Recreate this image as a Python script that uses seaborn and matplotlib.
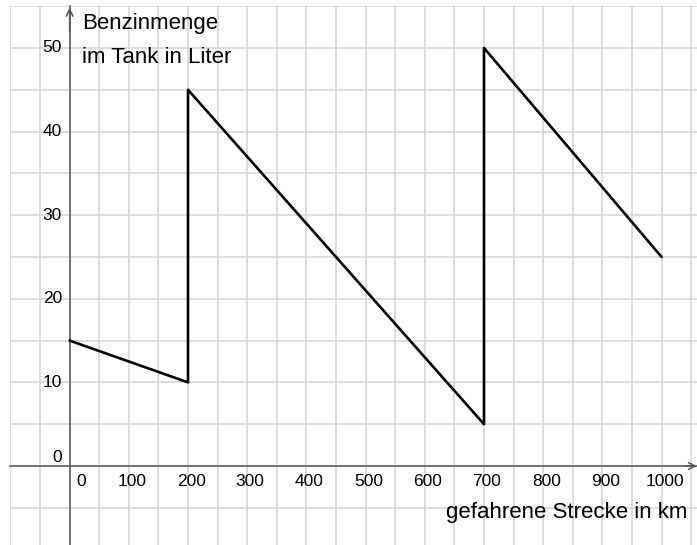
import matplotlib
matplotlib.use("Agg")
import matplotlib.pyplot as plt
import pandas as pd
import seaborn as sns

# data
strecke = [0, 200, 200, 700, 700, 1000]
benzin = [15, 10, 45, 5, 50, 25]
x_ticks = [0, 100, 200, 300, 400, 500, 600, 700, 800, 900, 1000]
y_ticks = [0, 10, 20, 30, 40, 50]
y_title = ["Benzinmenge", "im Tank in Liter"]
x_title = "gefahrene Strecke in km"

sns.set_style("white")
plt.rcParams["font.family"] = ["Liberation Sans", "DejaVu Sans"]
plt.rcParams["text.color"] = "black"

df = pd.DataFrame({"strecke": strecke, "benzin": benzin})

fig = plt.figure(figsize=(6.97, 5.45), dpi=100)
ax = fig.add_axes([10 / 697, 0, 687 / 697, 539 / 545])

sns.lineplot(data=df, x="strecke", y="benzin", sort=False, estimator=None,
             color="black", lw=1.9, ax=ax, zorder=5)
ax.set_xlabel("")
ax.set_ylabel("")

# grid every 50 km / 5 l
ax.set_xticks(x_ticks)
ax.set_yticks(y_ticks)
ax.set_xticks(range(-100, 1101, 50), minor=True)
ax.set_yticks(range(-10, 56, 5), minor=True)
ax.grid(which="both", color="#d4d4d4", lw=1.1)
ax.tick_params(which="minor", length=0)
ax.set_xlim(-100.7, 1059.8)
ax.set_ylim(-9.45, 55.02)

# axes through the origin
axis_col = "#555555"
for s in ["top", "right"]:
    ax.spines[s].set_visible(False)
ax.spines["left"].set_position(("data", 0))
ax.spines["bottom"].set_position(("data", 0))
for s in ["left", "bottom"]:
    ax.spines[s].set_color(axis_col)
    ax.spines[s].set_linewidth(1.1)
    ax.spines[s].set_zorder(4)
ax.tick_params(which="major", direction="inout", length=4, width=0.8,
               color=axis_col, labelbottom=False, labelleft=False)

# arrow heads
ax.annotate("", xy=(1059.5, 0), xytext=(1040, 0),
            arrowprops=dict(arrowstyle="->", color=axis_col, lw=1.1,
                            mutation_scale=12, shrinkA=0, shrinkB=0), zorder=6)
ax.annotate("", xy=(0, 54.8), xytext=(0, 52),
            arrowprops=dict(arrowstyle="->", color=axis_col, lw=1.1,
                            mutation_scale=12, shrinkA=0, shrinkB=0), zorder=6)

# tick labels like GeoGebra
for v in x_ticks:
    dx = 8 if v == 0 else 2.2
    ax.annotate(str(v), xy=(v, 0), xytext=(dx, -11), textcoords="offset points",
                ha="center", va="center", fontsize=12.5, color="black")
for v in y_ticks:
    dy = 6 if v == 0 else 0
    ax.annotate(str(v), xy=(0, v), xytext=(-5.5, dy), textcoords="offset points",
                ha="right", va="center", fontsize=12.5, color="black")

# axis titles
ax.text(21, 52.3, y_title[0], fontsize=16, va="baseline", ha="left", color="black")
ax.text(21, 48.2, y_title[1], fontsize=16, va="baseline", ha="left", color="black")
ax.text(1043, -6.2, x_title, fontsize=16, va="baseline", ha="right", color="black")

fig.savefig("out.png", dpi=100)
